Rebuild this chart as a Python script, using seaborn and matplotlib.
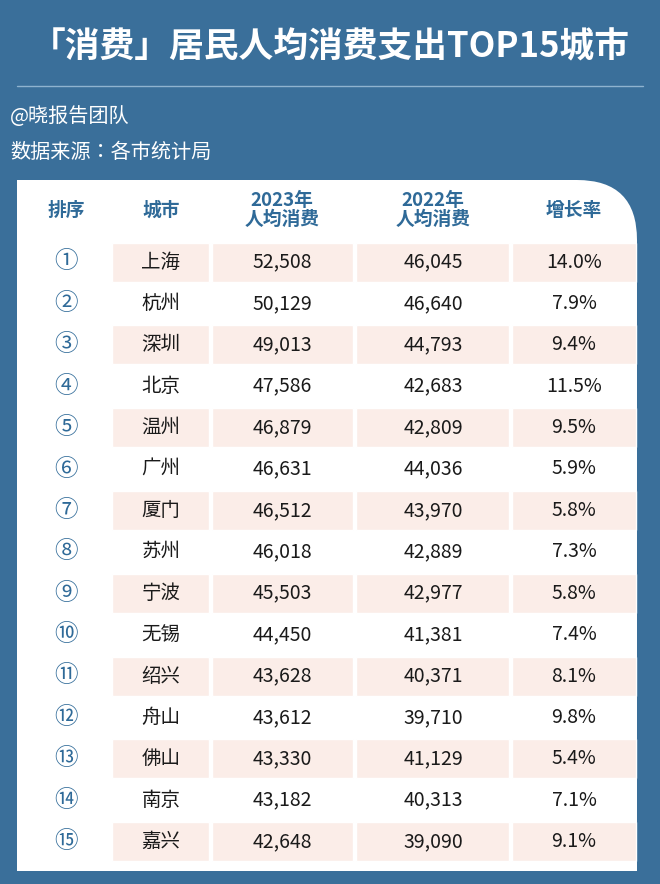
import matplotlib
matplotlib.use("Agg")
import matplotlib.pyplot as plt
import seaborn as sns
from matplotlib import font_manager
from matplotlib.patches import FancyBboxPatch, Rectangle

sns.set_theme(style="white")
names = {f.name for f in font_manager.fontManager.ttflist}
cjk = [n for n in ["Noto Sans CJK SC", "Noto Sans CJK JP", "Noto Sans CJK TC", "Noto Sans CJK KR"] if n in names]
plt.rcParams["font.family"] = "sans-serif"
plt.rcParams["font.sans-serif"] = cjk + ["DejaVu Sans"]

ranks = ["①","②","③","④","⑤","⑥","⑦","⑧","⑨","⑩","⑪","⑫","⑬","⑭","⑮"]
cities = ["上海","杭州","深圳","北京","温州","广州","厦门","苏州","宁波","无锡","绍兴","舟山","佛山","南京","嘉兴"]
spend_2023 = [52508,50129,49013,47586,46879,46631,46512,46018,45503,44450,43628,43612,43330,43182,42648]
spend_2022 = [46045,46640,44793,42683,42809,44036,43970,42889,42977,41381,40371,39710,41129,40313,39090]
growth = [14.0,7.9,9.4,11.5,9.5,5.9,5.8,7.3,5.8,7.4,8.1,9.8,5.4,7.1,9.1]
headers = ["排序","城市","2023年\n人均消费","2022年\n人均消费","增长率"]

BG = "#3a6f9a"
BLUE = "#2f6a98"
PINK = "#fbede8"

fig = plt.figure(figsize=(6.6, 8.84), dpi=100)
fig.patch.set_facecolor(BG)
ax = fig.add_axes([0, 0, 1, 1])
ax.set_xlim(0, 660)
ax.set_ylim(884, 0)
ax.axis("off")

ax.text(330, 47, "「消费」居民人均消费支出TOP15城市", color="white", fontsize=25,
        fontweight="bold", ha="center", va="center")
ax.plot([17, 643], [86, 86], color="#8fb3cf", lw=1)
ax.text(10, 116, "@晓报告团队", color="white", fontsize=14.5, va="center")
ax.text(10, 152, "数据来源：各市统计局", color="white", fontsize=14.5, va="center")

panel = FancyBboxPatch((17, 180), 620, 691, boxstyle="round,pad=0,rounding_size=60",
                       fc="white", ec="none")
ax.add_patch(panel)
ax.add_patch(Rectangle((17, 180), 80, 691, fc="white", ec="none"))
ax.add_patch(Rectangle((17, 800), 620, 71, fc="white", ec="none"))

col_x = [66, 161, 282, 433, 574]
col_l = [112, 212, 356, 512]
col_r = [209, 353, 509, 636]

for j, h in enumerate(headers):
    ax.text(col_x[j], 210, h, color=BLUE, fontsize=13.5, fontweight="bold",
            ha="center", va="center", linespacing=1.05)

row_y = [262 + i * 41.4 for i in range(len(cities))]
for i in range(0, len(cities), 2):
    ax.barh([row_y[i]] * 4, [r - l for l, r in zip(col_l, col_r)], left=col_l,
            height=39, color=PINK)

for i, y in enumerate(row_y):
    ax.text(col_x[0], y, ranks[i], color=BLUE, fontsize=17, ha="center", va="center")
    vals = [cities[i], f"{spend_2023[i]:,}", f"{spend_2022[i]:,}", f"{growth[i]:.1f}%"]
    for j, v in enumerate(vals):
        ax.text(col_x[j + 1], y, v, color="#1a1a1a", fontsize=14, ha="center", va="center")

fig.savefig("out.png", dpi=100, facecolor=BG)
